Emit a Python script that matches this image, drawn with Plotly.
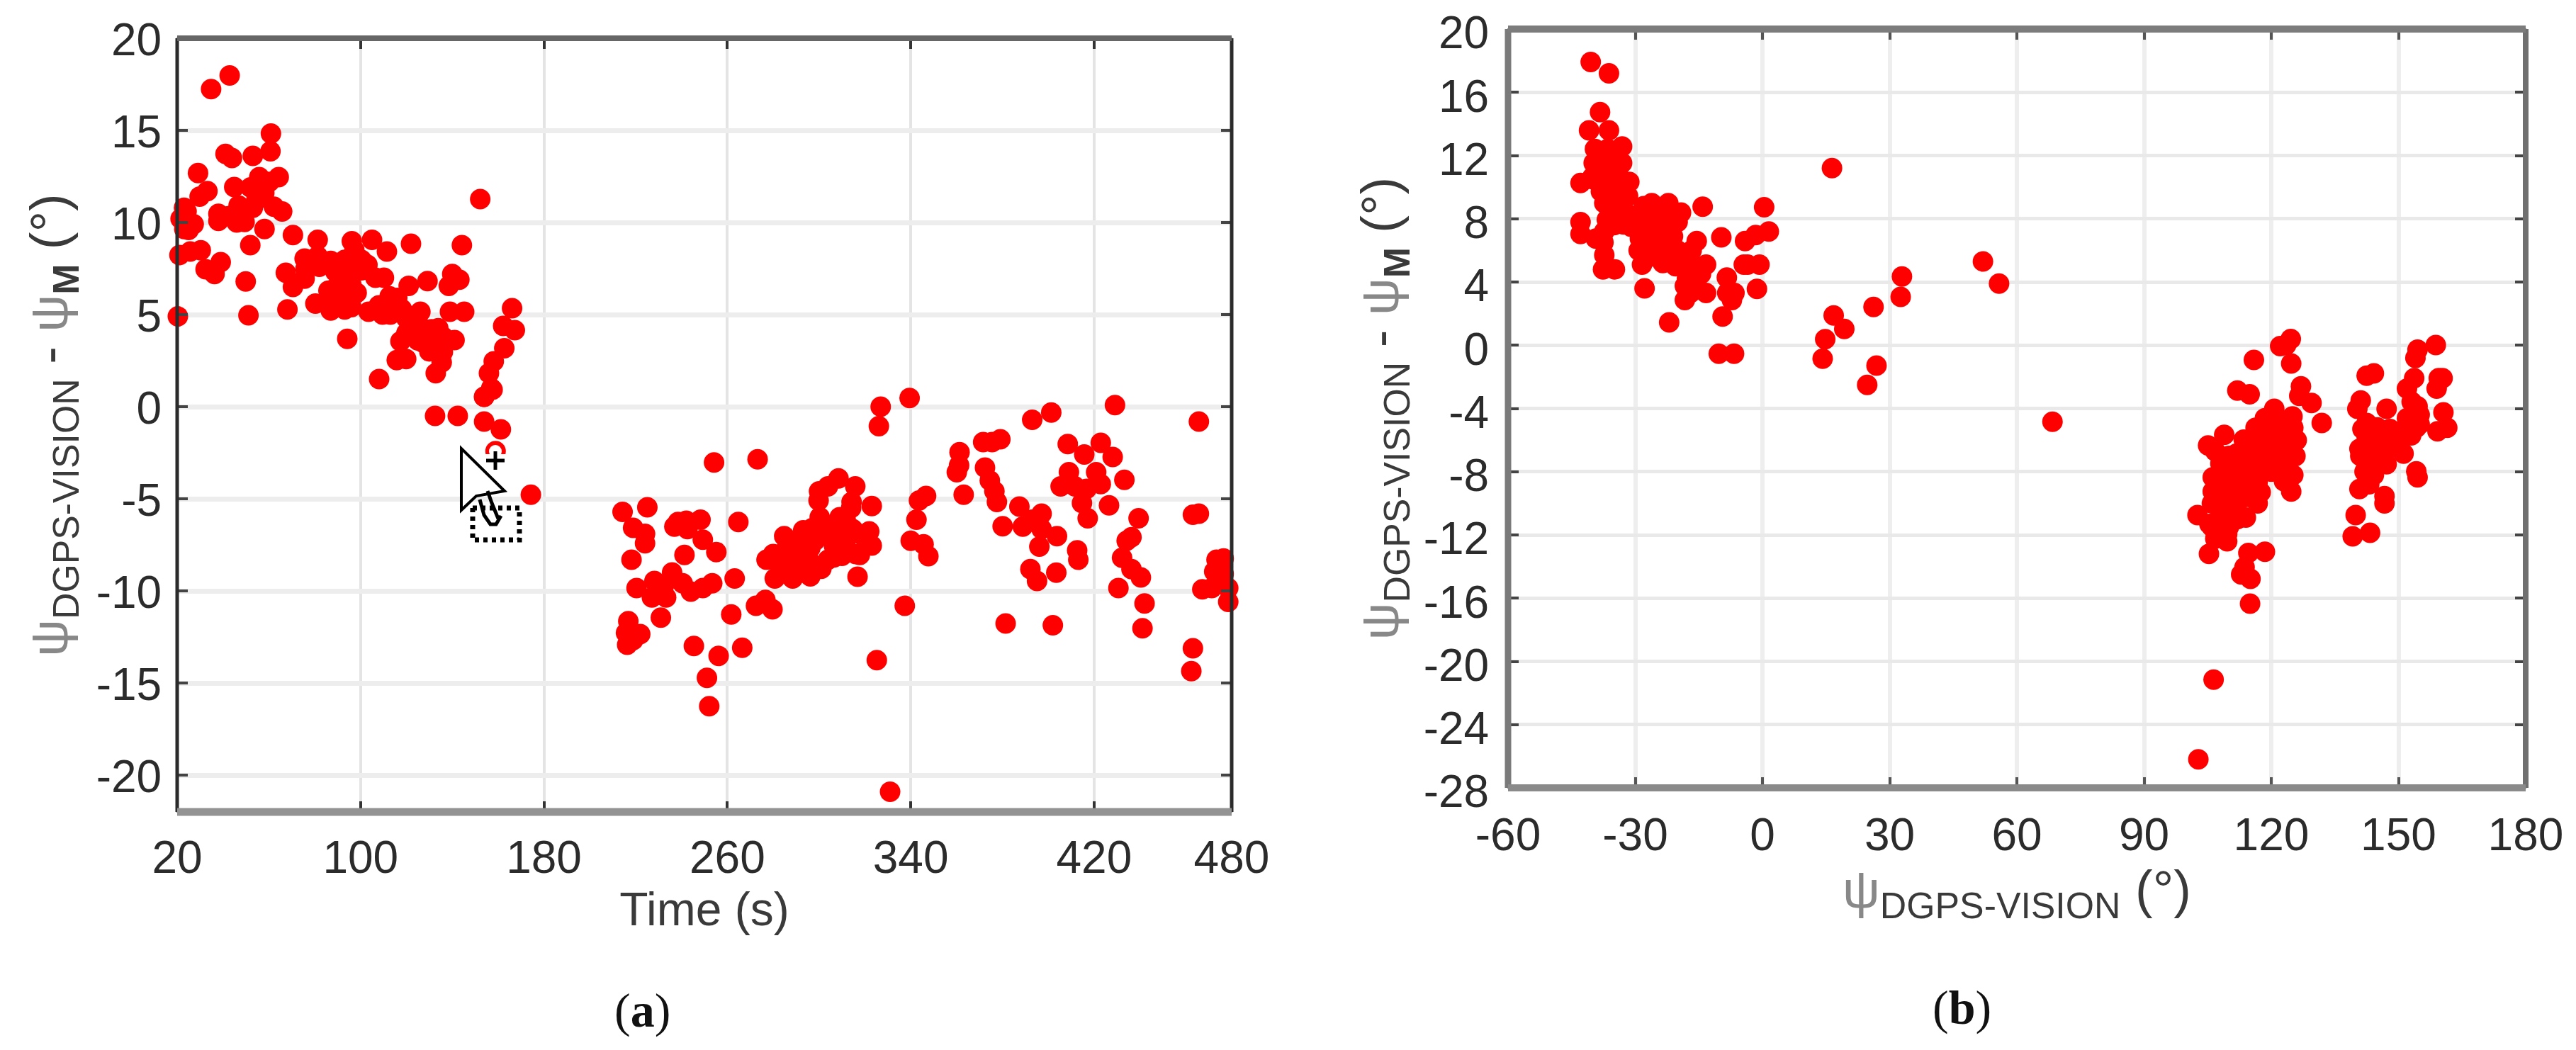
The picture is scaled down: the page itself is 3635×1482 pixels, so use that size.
import plotly.graph_objects as go

W, H = 3635, 1482

# Panel (a): time [s] and heading difference [deg]
time_s = [42.9,34.8,60.9,60.7,53,43.9,41.1,29.1,33.2,29.8,44.9,55.8,64.3,60.2,55.5,54.5,46.8,48.8,49.4,38,38,42.7,62.2,65.8,24.1,23.1,27.2,23.1,58.1,70.5,51.9,21,25.7,30.3,39,32.4,36.3,49.9,20.3,51.1,68.1,81.3,96.2,105,111.5,122,144.2,152.2,
75.6,81.3,87,97.3,100.4,93.1,67.4,70.5,75.6,89,89,98.3,95.2,100.4,106.5,110.2,80.3,87,93.1,91.1,103.5,109.6,112.7,121,129.2,140,138.5,143.1,126.1,115.8,139,145.2,166.1,162.2,167.3,120,133.9,141,127.1,131.3,135.9,117.4,119.9,115.8,135.4,132.8,94.2,108.1,162.7,158.1,156,157,153.9,132.5,142.4,153.9,161.2,158.9,174.3,153.9,157.6,
326.9,339.5,326.1,254.2,273.2,214.3,225.1,218.9,224.1,224.1,236.9,242.1,248.3,242.6,238.5,249.3,255.2,264.8,241.3,218.2,235.9,228.2,220.4,232.3,227.1,233.3,231,240.5,244.1,249.3,253.4,263.2,261.7,272.5,276.6,279.7,216.8,215.8,222,216.3,218.9,245.4,256.2,266.5,251.1,252.1,325.2,337.4,
277.1,280.7,284.8,285.9,282.8,288.5,296.2,290,296.2,293.1,298.2,303.9,306.5,306.5,300.3,299.8,303.9,308.5,315.8,314.2,311.6,307.5,311.6,323,321.9,323,317.8,316.8,314.7,296.2,291,342.5,343.6,346.7,340,345.6,347.7,
363.1,361.3,361.1,360.1,371.6,375.5,379.1,372.4,374.5,376.5,377.6,393,401.3,429.1,465.7,408.5,422.9,415.7,428.1,420.9,409,405.4,411.6,416.7,422.9,433.2,414.7,417.2,426.5,439.4,436.3,434.2,432.2,436.3,440.4,430.6,442,441.1,463.1,462.4,465.7,463.1,387.4,397.1,388.9,393,380.1,397.1,403.8,396.1,412.6,413.1,392.2,395.1,403.5,381.4,402,473.4,476.5,472.4,476.5,467.2,471.3,478.5,478.5,
76,82,88,93,98,103,92,96,86,90,96,85,108,112,116,118,123,113,120,124,128,131,136,125,130,25,21.5,23,53,46,52,58,
280,285,288,293,297,301,304,309,314,316,319,310,287,283,292,301,300,331]
diff_a = [17.98,17.24,14.83,13.87,13.62,13.5,13.72,12.68,11.7,11.4,11.92,12.46,12.46,12.2,11.7,11.2,10.92,10.54,10.03,10.47,10.09,10.35,10.86,10.6,10.6,10.03,9.9,9.64,9.64,9.32,8.77,8.23,8.42,8.49,7.85,7.46,7.2,6.8,4.9,4.96,5.28,9.06,8.98,9.06,8.42,8.85,8.77,11.27,
8.04,8.17,7.91,8.49,7.97,7.97,7.27,6.5,6.95,7.33,6.44,6.18,7.4,7.4,7.0,7.0,5.6,5.22,5.28,6.05,5.15,5.0,5.99,6.56,6.82,7.2,6.56,6.89,5.15,5.15,5.15,5.15,5.35,4.38,4.15,4.0,4.26,3.62,3.49,3.36,2.97,3.55,2.59,2.53,2.4,1.82,3.68,1.5,3.17,2.46,1.82,1.0,0.54,-0.5,-0.5,-0.81,-1.23,-2.41,-4.78,0.54,0.92,
0,0.47,-1.06,-3.03,-2.86,-5.71,-5.46,-6.58,-6.9,-7.41,-6.51,-6.19,-6.13,-6.64,-6.26,-7.22,-7.89,-6.26,-8.05,-8.31,-9.0,-9.46,-9.85,-9.72,-10.36,-10.36,-11.45,-9.59,-10.04,-9.85,-9.59,-9.33,-11.28,-10.81,-10.49,-11,-11.64,-12.28,-12.35,-12.92,-12.67,-12.99,-13.53,-13.09,-14.72,-16.26,-13.76,-10.81,
-8.31,-9.33,-7.03,-7.67,-8.44,-9.33,-9.21,-8.31,-8.44,-6.71,-7.28,-8.31,-8.18,-7.54,-6.0,-5.1,-4.33,-3.89,-4.33,-5.17,-6.13,-6.77,-7.28,-5.39,-6.77,-7.54,-8.05,-9.23,-6.64,-7.67,-7.28,-6.13,-5.1,-4.85,-7.28,-7.47,-8.12,
-4.78,-2.47,-3.18,-3.56,-1.92,-1.92,-1.77,-3.31,-4.01,-4.59,-5.17,-0.71,-0.32,0.09,-0.81,-2.03,-1.96,-2.6,-2.73,-3.56,-3.56,-4.33,-4.33,-4.46,-4.2,-3.97,-5.23,-6.06,-5.36,-6.06,-7.09,-7.28,-8.2,-8.82,-9.27,-9.85,-10.68,-12.03,-13.12,-14.36,-5.81,-5.87,-5.42,-5.81,-6.51,-6.13,-6.49,-6.64,-7.03,-7.6,-7.8,-8.31,-8.82,-9.46,-9.01,-11.77,-11.87,-8.31,-8.24,-8.95,-9.08,-9.91,-9.85,-9.85,-10.6,
7.5,7.6,7.6,7.3,7.6,7.7,6.4,6.6,6.3,5.6,5.4,5.6,5.5,5.6,5.9,5.3,4.9,5.0,4.8,4.3,4.2,4.2,3.8,3.6,3.0,9.6,10.2,10.8,10.8,10,11.9,11.6,
-8,-8.6,-8,-8,-6.6,-7,-6.6,-6,-5.5,-8,-7,-8.1,-7.3,-9,-9,-8.8,-4.6,-20.9]

# Panel (b): heading and heading difference [deg]
heading = [-40.5,-36.2,-38.3,-40.9,-36.2,-39.5,-33.1,-36.5,-39.8,-36.2,-33.1,-42.9,-40.1,-31.4,-34.5,-38.1,-34.5,-31.7,-37.3,-33.4,-36.7,-32.8,-42.9,-42.9,-39.3,-37.3,-37.3,-37.6,-34.8,-26.1,-22.2,-19.2,-14.1,0.4,1.5,-1.6,-4.1,-9.7,-15.5,-16.7,-26.1,-24.5,-21.1,-28.9,-29.2,-28.4,-25,-22.2,-18.9,-13.3,-4.4,-0.7,-1.3,-8.4,-8.3,-7.2,-9.4,-16.4,-18.3,-18.3,-13.3,-27.8,-22,-17.8,-24.5,
-10.3,-6.7,16.4,32.9,32.6,26.2,16.8,19.3,14.8,14.2,26.9,24.7,68.4,52,55.8,106.4,102.8,
123.5,124.6,122.1,115.9,124.7,112,114.9,127,126.6,129.5,131.9,120.7,118.5,124.1,125.2,116.3,108.9,105.1,106.8,113.5,118.5,122.4,125.7,121.3,116.8,111.8,115.1,119,125.2,124.7,106.2,109.6,112.9,116.8,106.2,110.1,114,116.8,107.9,111.8,114,102.6,105.4,109.6,106.8,105.3,109.6,114.6,118.5,113.7,112.9,115.1,115,
158.8,154.5,154,142.5,144.2,153.7,152,159.5,160.4,159,141.1,153.1,154.5,140.3,147.2,160.6,152,154.2,159.2,161.5,142.5,147.8,150.3,142.5,140.8,143.6,147,142.5,145.3,147.2,151.2,154.2,154.5,144.2,140.8,143.1,146.7,146.7,139.9,139.2,143.3,
-40,-38,-36,-34,-38.5,-36.5,-33,-35.5,-33,-35,-31,-29,-27,-25,-23,-20,-28,-26,-24,-22.5,-20,-18,-26.5,-23.5,-20.5,-16,-14.5,-17,-35,-37.5,-31,-28,-24,-21,-3.5,-6.6,
108,110,112,114,116,118,120,122,120,122,124,118,116,114,111,108,106,108,110,112,114,115.5,118,120,122,124,107.5,109,110,112,108,112.5,118,126,125,120,121,117.5,106,123,
141.5,144,146,149,145,143,148,150,141,144,142,153,155,153,155]
diff_b = [17.92,17.2,14.74,13.59,13.59,12.42,12.57,12.42,11.53,11.83,11.53,10.26,10.63,10.33,10.63,9.73,9.58,9.43,8.99,8.69,7.94,7.64,7.79,7.04,6.74,7.19,5.7,4.8,4.8,8.99,8.99,8.39,8.76,8.73,7.19,6.97,6.59,6.82,6.59,5.99,8.09,7.34,6.89,6.74,5.99,5.1,5.99,5.4,4.95,5.1,5.1,5.1,3.56,4.28,3.31,2.86,1.81,3.9,2.86,3.75,3.31,3.6,1.44,4.2,6.45,
-0.54,-0.54,11.2,4.35,3.06,2.42,1.88,1.03,0.38,-0.85,-1.29,-2.51,-4.84,5.3,3.9,-21.15,-26.2,
0.01,0.39,-0.06,-0.93,-1.15,-2.87,-3.1,-2.6,-3.2,-3.65,-4.92,-4.02,-4.62,-4.92,-5.22,-5.22,-5.67,-6.34,-6.71,-5.97,-5.81,-5.81,-7.01,-6.71,-6.56,-6.86,-7.46,-7.61,-8.21,-9.25,-8.36,-8.06,-8.5,-8.66,-9.25,-9.25,-9.4,-10,-10.3,-10.45,-10.9,-10.75,-11.3,-11.94,-12.24,-13.2,-12.4,-13.14,-13.07,-14.04,-14.5,-14.78,-16.35,
0.01,-0.28,-0.81,-1.93,-1.78,-2.08,-2.75,-2.08,-2.08,-2.75,-3.5,-3.57,-3.87,-4.02,-4.02,-4.25,-4.62,-5.22,-5.44,-5.22,-4.92,-5.81,-6.26,-5.81,-6.56,-6.56,-6.71,-7.16,-7.46,-7.53,-6.86,-7.98,-8.36,-8.21,-9.1,-8.8,-9.55,-10,-10.75,-12.09,-11.87,
10.5,10.2,10.8,11.2,11,9.6,10,9,9,8.3,8.2,8.2,8,7.6,7.6,7.8,7.2,6.6,6.6,6.3,6,5.6,5.6,5.2,5,5,4.5,3.3,7.6,6.5,7.5,8.8,8.6,8.3,5.1,3.3,
-7.5,-7,-7.5,-6.5,-5.8,-5,-5,-4.8,-6.2,-6.8,-6.2,-7,-7.5,-8,-8.3,-9,-10,-10.6,-10,-9.8,-9.6,-9,-8,-8,-8,-7.4,-8.2,-11,-11.5,-11,-12,-7,-6,-6,-4.5,-4.8,-7.5,-9.3,-11.5,-8.6,
-5.3,-5.5,-6,-6,-5.2,-6,-5.3,-5.5,-7,-7.2,-8,-4.7,-4.4,-5.7,-5]

xticks_a = [20, 100, 180, 260, 340, 420, 480]
yticks_a = [20, 15, 10, 5, 0, -5, -10, -15, -20]
xticks_b = [-60, -30, 0, 30, 60, 90, 120, 150, 180]
yticks_b = [20, 16, 12, 8, 4, 0, -4, -8, -12, -16, -20, -24, -28]

xtitle_a = "Time (s)"
ytitle = ('<span style="fill:#888888">ψ</span><sub>DGPS-VISION</sub> - '
          '<span style="fill:#888888">ψ</span><sub><b>M</b></sub> (°)')
xtitle_b = '<span style="fill:#888888">ψ</span><sub>DGPS-VISION</sub> (°)'

FONT = "Liberation Sans"
TICK = dict(family=FONT, size=64, color="#2b2b2b")
TITLE = dict(family=FONT, size=74, color="#3a3a3a")


def px(x):
    return x / W


def py(y):
    return 1 - y / H


fig = go.Figure()
fig.add_trace(go.Scatter(x=time_s, y=diff_a, mode="markers", xaxis="x", yaxis="y", cliponaxis=False,
                         marker=dict(color="#ff0000", size=29, line=dict(width=0)),
                         showlegend=False))
fig.add_trace(go.Scatter(x=heading, y=diff_b, mode="markers", xaxis="x2", yaxis="y2", cliponaxis=False,
                         marker=dict(color="#ff0000", size=29, line=dict(width=0)),
                         showlegend=False))


def axis(vals, rng, dom, anchor, tickcol, gridcol, gridw, title=None, **kw):
    d = dict(range=rng, domain=dom, anchor=anchor, tickmode="array", tickvals=vals,
             ticktext=[str(v) for v in vals], ticks="inside", ticklen=15, tickwidth=4,
             tickcolor=tickcol, tickfont=TICK, showgrid=True, gridcolor=gridcol,
             gridwidth=gridw, zeroline=False, showline=True, linewidth=1,
             linecolor="#888888", mirror="ticks", automargin=False,
             ticklabeloverflow="allow")
    if title:
        d["title"] = title
    d.update(kw)
    return d


fig.update_layout(
    width=W, height=H, autosize=False, margin=dict(l=0, r=0, t=0, b=0),
    paper_bgcolor="white", plot_bgcolor="white", showlegend=False,
    xaxis=axis(xticks_a, [20, 480], [px(250), px(1738)], "y", "#333333", "#e4e4e4", 4,
               dict(text=xtitle_a, font=dict(family=FONT, size=66, color="#3a3a3a"), standoff=14),
               ticklabelstandoff=8),
    yaxis=axis(yticks_a, [-22, 20], [py(1146), py(54)], "x", "#444444", "#ededed", 7,
               dict(text=ytitle, font=TITLE, standoff=15), ticklabelstandoff=8, ticklabelshift=2),
    xaxis2=axis(xticks_b, [-60, 180], [px(2128), px(3564)], "y2", "#555555", "#eeeeee", 6,
                dict(text=xtitle_b, font=TITLE, standoff=10), ticklabelstandoff=10),
    yaxis2=axis(yticks_b, [-28, 20], [py(1112), py(41)], "x2", "#444444", "#e9e9e9", 5,
                dict(text=ytitle, font=TITLE, standoff=10), ticklabelstandoff=13, ticklabelshift=5),
)


def frame(xref, yref, left, right, top, bottom):
    out = []
    for (x0, y0, x1, y1), (c, w) in (((0, 0, 0, 1), left), ((1, 0, 1, 1), right),
                                     ((0, 1, 1, 1), top), ((0, 0, 1, 0), bottom)):
        out.append(dict(type="line", xref=xref, yref=yref, x0=x0, y0=y0, x1=x1, y1=y1,
                        line=dict(color=c, width=w), layer="above"))
    return out


shapes = []
shapes += frame("x domain", "y domain", ("#2b2b2b", 5), ("#2b2b2b", 5), ("#666666", 8), ("#939393", 11))
shapes += frame("x2 domain", "y2 domain", ("#7a7a7a", 9), ("#707070", 8), ("#7c7c7c", 10), ("#8a8a8a", 10))


def paper_path(points, close=False, fill=None, color="black", width=3, dash=None):
    d = "M" + " L".join(f"{px(a):.5f},{py(b):.5f}" for a, b in points) + (" Z" if close else "")
    s = dict(type="path", path=d, xref="paper", yref="paper", layer="above",
             line=dict(color=color, width=width))
    if fill:
        s["fillcolor"] = fill
    if dash:
        s["line"]["dash"] = dash
    return s


# Mouse pointer captured in the original screenshot
shapes.append(dict(type="circle", xref="paper", yref="paper", x0=px(690), x1=px(708),
                   y0=py(646), y1=py(628), fillcolor="white", line=dict(width=0), layer="above"))
shapes.append(dict(type="rect", xref="paper", yref="paper", x0=px(684), x1=px(714),
                   y0=py(660), y1=py(641), fillcolor="white", line=dict(width=0), layer="above"))
shapes.append(paper_path([(699, 637), (699, 663)], width=5))
shapes.append(paper_path([(686, 650), (712, 650)], width=5))
shapes.append(paper_path([(667, 717), (733, 717), (733, 762), (667, 762)], close=True, width=7, dash="6px,6px"))
shapes.append(paper_path([(651, 633), (651, 720), (672, 700), (712, 693)], close=True, fill="white", width=4))
shapes.append(paper_path([(677, 705), (683, 727), (692, 740), (700, 740), (707, 728)], width=5))
shapes.append(paper_path([(688, 693), (694, 710), (703, 732)], width=5))

fig.update_layout(shapes=shapes)

for text, xp, yp in (("(<b>a</b>)", 906, 1426), ("(<b>b</b>)", 2768, 1422)):
    fig.add_annotation(text=text, xref="paper", yref="paper", x=px(xp), y=py(yp), showarrow=False,
                       xanchor="center", yanchor="middle",
                       font=dict(family="Liberation Serif", size=68, color="#111111"))

fig.write_html("out.html", config=dict(displayModeBar=False),
               post_script="document.body.style.margin='0';")
